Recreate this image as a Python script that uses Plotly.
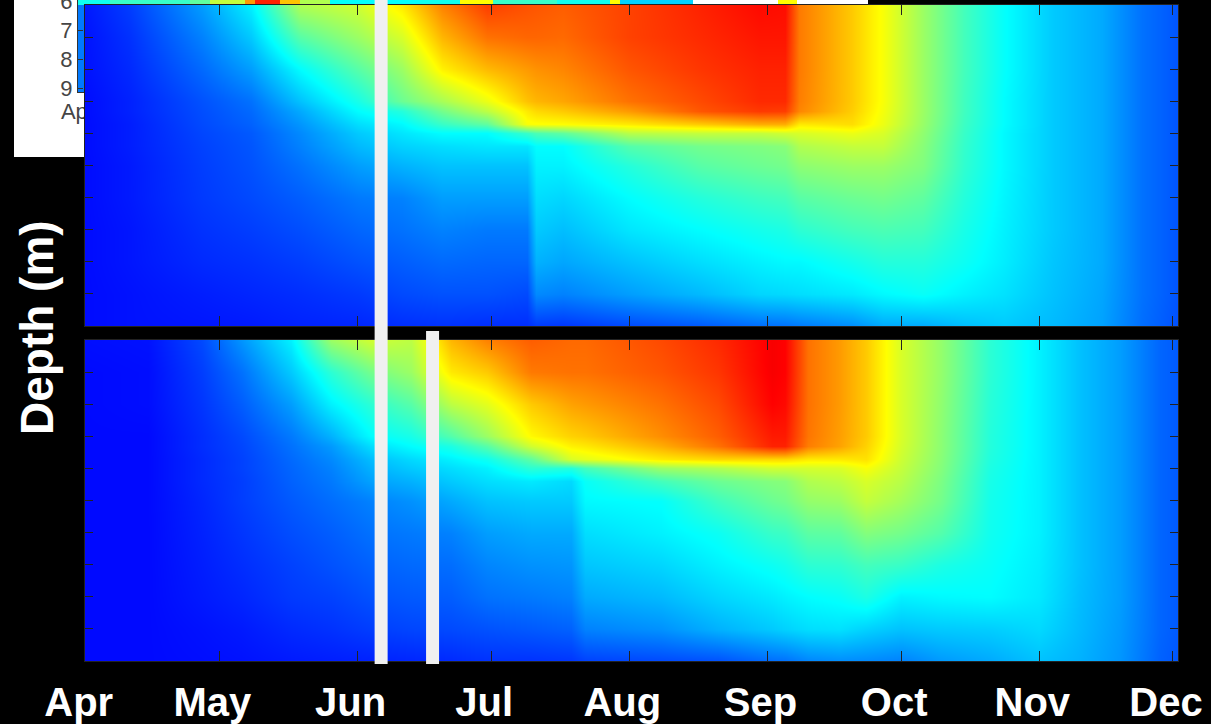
import plotly.graph_objects as go

# ---------------- data ----------------
depths = [0, 1, 2, 3, 3.3, 3.7, 4.0, 4.4, 5, 6, 7, 8, 9, 10]

top_dates = ["2013-03-30", "2013-04-11", "2013-04-27", "2013-05-08", "2013-05-19",
             "2013-06-01", "2013-06-11", "2013-06-20", "2013-06-30", "2013-07-09",
             "2013-07-11", "2013-07-17", "2013-08-01", "2013-08-17", "2013-08-30",
             "2013-09-05", "2013-09-08", "2013-09-20", "2013-09-27", "2013-10-06",
             "2013-10-15", "2013-10-24", "2013-11-04", "2013-11-15", "2013-11-24",
             "2013-12-05"]
# one list per date, values by depth (deg C)
top_temp = [
    [3.2, 3.1, 3.1, 3.0, 3.0, 3.0, 3.0, 3.0, 3.0, 3.0, 3.0, 3.0, 3.0, 3.0],
    [4.3, 4.0, 3.8, 3.6, 3.6, 3.5, 3.5, 3.5, 3.4, 3.4, 3.3, 3.3, 3.2, 3.2],
    [6.7, 6.0, 5.4, 4.8, 4.7, 4.6, 4.5, 4.4, 4.3, 4.2, 4.0, 3.8, 3.5, 3.3],
    [8.8, 7.8, 6.7, 5.6, 5.4, 5.2, 5.0, 4.9, 4.8, 4.6, 4.3, 4.0, 3.7, 3.4],
    [13.5, 11.3, 9.1, 7.6, 7.0, 6.5, 6.2, 6.0, 5.6, 5.1, 4.7, 4.3, 3.9, 3.6],
    [14.3, 13.0, 11.3, 9.7, 9.1, 8.3, 7.8, 7.4, 6.7, 5.8, 5.3, 4.8, 4.2, 3.7],
    [16.0, 14.5, 13.0, 11.8, 10.0, 9.0, 8.5, 8.0, 7.2, 6.0, 5.6, 5.1, 4.6, 3.9],
    [18.6, 17.3, 15.8, 13.3, 12.0, 10.5, 9.1, 8.3, 7.6, 6.7, 6.0, 5.4, 4.8, 4.0],
    [20.3, 19.0, 17.2, 15.0, 13.8, 11.5, 9.1, 8.5, 7.6, 6.7, 5.8, 5.3, 4.8, 3.9],
    [19.8, 19.3, 18.0, 17.0, 16.0, 15.3, 10.5, 8.5, 7.6, 6.7, 5.8, 5.3, 4.6, 3.9],
    [19.7, 19.3, 18.2, 17.3, 16.4, 15.4, 11.0, 9.1, 8.8, 8.3, 7.8, 7.2, 6.2, 4.2],
    [19.5, 19.2, 18.5, 17.7, 16.8, 15.5, 11.5, 9.1, 8.8, 8.1, 7.5, 6.9, 6.0, 4.1],
    [20.2, 20.2, 19.7, 19.0, 18.0, 16.0, 13.7, 11.2, 10.0, 9.1, 8.5, 7.6, 6.7, 4.6],
    [21.0, 20.8, 20.5, 20.0, 19.7, 16.8, 14.0, 12.0, 11.3, 10.0, 9.1, 8.3, 7.4, 5.0],
    [21.6, 21.3, 21.0, 20.8, 20.4, 17.5, 14.0, 12.3, 11.8, 10.6, 9.6, 8.8, 8.1, 5.5],
    [21.5, 21.3, 21.0, 20.8, 20.3, 17.5, 14.3, 12.5, 12.0, 10.8, 9.8, 9.0, 8.2, 5.6],
    [18.8, 18.8, 18.8, 18.7, 18.5, 16.0, 14.5, 13.5, 12.6, 11.3, 10.2, 9.0, 8.3, 5.8],
    [16.8, 16.8, 16.8, 16.8, 16.7, 16.3, 15.0, 14.0, 13.0, 11.8, 10.8, 9.6, 8.6, 6.3],
    [15.3, 15.3, 15.3, 15.3, 15.2, 15.0, 14.5, 14.0, 13.0, 12.0, 11.0, 10.0, 9.0, 7.0],
    [13.0, 13.0, 13.0, 13.0, 13.0, 12.9, 12.7, 12.5, 12.3, 11.5, 10.8, 10.0, 9.3, 7.0],
    [10.8, 10.8, 10.8, 10.7, 10.7, 10.6, 10.5, 10.4, 10.3, 10.0, 9.7, 9.4, 8.8, 7.5],
    [9.2, 9.2, 9.2, 9.1, 9.1, 9.1, 9.0, 9.0, 9.0, 8.9, 8.8, 8.7, 8.4, 7.8],
    [7.8, 7.8, 7.8, 7.8, 7.8, 7.8, 7.8, 7.8, 7.8, 7.8, 7.8, 7.7, 7.6, 7.4],
    [7.0, 7.0, 7.0, 7.0, 7.0, 7.0, 7.0, 7.0, 7.0, 7.0, 7.0, 7.0, 6.9, 6.8],
    [5.6, 5.6, 5.6, 5.6, 5.6, 5.6, 5.6, 5.6, 5.6, 5.6, 5.6, 5.6, 5.6, 5.5],
    [4.6, 4.6, 4.6, 4.6, 4.6, 4.6, 4.6, 4.6, 4.6, 4.6, 4.6, 4.6, 4.6, 4.5],
]

bottom_dates = ["2013-03-30", "2013-04-15", "2013-04-27", "2013-05-06", "2013-05-17",
                "2013-05-26", "2013-06-04", "2013-06-13", "2013-06-22", "2013-06-30",
                "2013-07-10", "2013-07-19", "2013-07-22", "2013-08-08", "2013-08-21",
                "2013-09-02", "2013-09-05", "2013-09-10", "2013-09-17", "2013-09-23",
                "2013-10-01", "2013-10-10", "2013-10-21", "2013-11-01", "2013-11-10",
                "2013-11-19", "2013-11-28", "2013-12-05"]
bottom_temp = [
    [3.1, 3.0, 3.0, 3.0, 3.0, 3.0, 3.0, 3.0, 3.0, 3.0, 3.0, 3.0, 3.0, 3.0],
    [3.2, 3.1, 3.1, 3.0, 3.0, 3.0, 3.0, 3.0, 3.0, 3.0, 3.0, 3.0, 3.0, 3.0],
    [4.6, 4.3, 4.1, 3.9, 3.9, 3.8, 3.8, 3.8, 3.7, 3.6, 3.5, 3.4, 3.2, 3.1],
    [6.5, 5.6, 5.1, 4.6, 4.5, 4.4, 4.4, 4.3, 4.3, 4.1, 3.9, 3.7, 3.4, 3.2],
    [8.8, 7.8, 6.7, 5.8, 5.6, 5.4, 5.3, 5.2, 5.0, 4.7, 4.4, 4.2, 3.8, 3.4],
    [13.0, 10.2, 8.8, 7.2, 6.6, 6.2, 6.0, 5.8, 5.5, 5.1, 4.8, 4.4, 4.0, 3.5],
    [14.3, 12.0, 10.2, 9.1, 8.3, 7.5, 7.2, 6.8, 6.0, 5.6, 5.2, 4.8, 4.3, 3.6],
    [13.8, 13.0, 11.3, 9.7, 9.1, 8.2, 7.8, 7.2, 6.4, 5.8, 5.4, 5.0, 4.5, 3.7],
    [17.3, 16.0, 13.8, 11.2, 9.8, 8.8, 8.3, 7.8, 7.0, 6.0, 5.5, 5.1, 4.6, 3.8],
    [18.6, 16.8, 14.8, 13.0, 11.3, 9.5, 8.8, 8.3, 7.6, 6.7, 6.1, 5.6, 4.8, 4.0],
    [19.5, 18.8, 16.8, 15.6, 14.3, 11.5, 10.2, 8.6, 7.8, 7.0, 6.4, 5.8, 5.0, 4.0],
    [19.2, 19.0, 17.8, 16.6, 15.8, 14.5, 10.0, 8.2, 7.8, 7.0, 6.5, 6.0, 5.2, 4.1],
    [19.2, 19.0, 18.0, 16.8, 16.0, 14.8, 10.8, 9.3, 9.0, 8.3, 7.7, 7.0, 6.0, 4.4],
    [20.0, 19.7, 19.0, 18.3, 17.5, 16.0, 13.0, 10.8, 9.2, 8.8, 8.1, 7.4, 6.4, 4.6],
    [20.8, 20.5, 20.0, 19.5, 19.0, 16.5, 13.5, 11.8, 10.7, 9.4, 8.8, 8.1, 7.2, 4.8],
    [22.0, 22.0, 21.8, 21.2, 21.0, 16.5, 14.3, 12.4, 11.8, 10.5, 9.4, 8.6, 7.8, 5.5],
    [21.8, 21.8, 21.6, 21.2, 21.0, 16.5, 14.3, 12.5, 12.0, 10.6, 9.6, 8.8, 8.0, 5.6],
    [19.0, 19.0, 19.0, 18.9, 18.7, 16.0, 14.4, 13.5, 12.8, 11.4, 10.2, 9.1, 8.3, 6.1],
    [18.0, 18.0, 18.0, 17.9, 17.8, 16.0, 14.5, 13.8, 13.0, 11.5, 10.3, 9.3, 8.4, 6.3],
    [16.8, 16.8, 16.8, 16.8, 16.6, 16.2, 15.3, 14.5, 14.0, 12.4, 10.8, 9.8, 8.0, 6.2],
    [14.5, 14.5, 14.5, 14.5, 14.4, 14.2, 14.0, 13.7, 13.2, 12.0, 10.5, 8.8, 7.6, 6.0],
    [12.8, 12.8, 12.7, 12.6, 12.6, 12.5, 12.4, 12.2, 12.0, 11.2, 9.8, 9.0, 7.8, 6.6],
    [10.2, 10.2, 10.1, 10.0, 10.0, 9.9, 9.8, 9.7, 9.6, 9.5, 9.3, 9.1, 7.9, 7.0],
    [8.8, 8.8, 8.8, 8.8, 8.8, 8.8, 8.8, 8.8, 8.8, 8.8, 8.7, 8.6, 8.2, 7.6],
    [7.6, 7.6, 7.6, 7.6, 7.6, 7.6, 7.6, 7.6, 7.6, 7.6, 7.6, 7.5, 7.4, 7.2],
    [6.7, 6.7, 6.7, 6.7, 6.7, 6.7, 6.7, 6.7, 6.7, 6.7, 6.7, 6.7, 6.6, 6.5],
    [5.3, 5.3, 5.3, 5.3, 5.3, 5.3, 5.3, 5.3, 5.3, 5.3, 5.3, 5.3, 5.3, 5.2],
    [4.8, 4.8, 4.8, 4.8, 4.8, 4.8, 4.8, 4.8, 4.8, 4.8, 4.8, 4.8, 4.8, 4.7],
]

month_dates = ["2013-04-01", "2013-05-01", "2013-06-01", "2013-07-01", "2013-08-01",
               "2013-09-01", "2013-10-01", "2013-11-01", "2013-12-01"]
month_labels = ["Apr", "May", "Jun", "Jul", "Aug", "Sep", "Oct", "Nov", "Dec"]
depth_ticks = [0, 1, 2, 3, 4, 5, 6, 7, 8, 9, 10]

marker_dates = ["2013-06-06 07:00", "2013-06-17 20:00"]   # white vertical bars

# partially hidden inset (days since Apr 1, segment edges)
inset_edges = [0, 14.4, 50.3, 59.3, 75.1, 79.6, 90.8, 99.8, 113.3, 153.7, 171.7,
               186.5, 215.3, 239.1, 243.6, 276.4, 314.6, 323.1, 355.1]
inset_depth_edges = [5.97, 6.15, 9.12]
inset_top_row = [9.5, 10.5, 11.5, 14.0, 18.0, 21.0, 17.0, 13.5, 9.2, 9.5, 15.5,
                 10.5, 9.5, 15.5, 8.0, None, 15.5, None]
inset_low_row = [5.8, 6.0, 6.0, 6.0, 6.0, 6.0, 6.0, 6.0, 6.0, 6.0, 6.0,
                 6.0, 6.0, 6.0, 6.0, None, None, None]
inset_ticks = [6, 7, 8, 9]

# ---------------- figure ----------------
W, H = 1211, 724
jet = [[0.0, "rgb(0,0,143)"], [0.111, "rgb(0,0,255)"], [0.365, "rgb(0,255,255)"],
       [0.619, "rgb(255,255,0)"], [0.873, "rgb(255,0,0)"], [1.0, "rgb(128,0,0)"]]
ZMIN, ZMAX = 0, 25


def transpose(cols):
    return [list(r) for r in zip(*cols)]


fig = go.Figure()

# inset (drawn first so the main panels cover it)
fig.add_trace(go.Heatmap(x=inset_edges, y=inset_depth_edges,
                         z=[inset_top_row, inset_low_row],
                         colorscale=jet, zmin=ZMIN, zmax=ZMAX, showscale=False,
                         zsmooth=False, hoverinfo="skip", xaxis="x", yaxis="y"))

fig.add_trace(go.Heatmap(x=top_dates, y=depths, z=transpose(top_temp),
                         colorscale=jet, zmin=ZMIN, zmax=ZMAX, showscale=False,
                         zsmooth="best", xaxis="x2", yaxis="y2"))
fig.add_trace(go.Heatmap(x=bottom_dates, y=depths, z=transpose(bottom_temp),
                         colorscale=jet, zmin=ZMIN, zmax=ZMAX, showscale=False,
                         zsmooth="best", xaxis="x3", yaxis="y3"))

xdom = [85 / W, 1178 / W]
xrange = ["2013-03-31 20:00", "2013-12-02 03:00"]
axis_line = dict(showline=True, linecolor="#222", linewidth=1, showgrid=False,
                 zeroline=False, ticks="inside", tickcolor="#222", tickwidth=1,
                 mirror="ticks", automargin=False)

xcommon = dict(type="date", range=xrange, domain=xdom, tickmode="array",
               tickvals=month_dates, ticktext=month_labels, ticklen=10, **axis_line)
ycommon = dict(range=[10, 0], tickmode="array", tickvals=depth_ticks,
               showticklabels=False, ticklen=8, **axis_line)

fig.update_layout(
    template="none",
    width=W, height=H, autosize=False,
    margin=dict(l=0, r=0, t=0, b=0, pad=0, autoexpand=False),
    paper_bgcolor="black", plot_bgcolor="rgba(0,0,0,0)",
    showlegend=False,
    xaxis=dict(domain=[78 / W, 868 / W], range=[0, 355.1], anchor="y",
               showline=True, linecolor="#333", linewidth=1, showgrid=False,
               zeroline=False, ticks="", tickmode="array", tickvals=[0],
               automargin=False,
               ticktext=["Apr"], tickfont=dict(family="Liberation Sans", size=22,
                                               color="#454545")),
    yaxis=dict(domain=[1 - 92 / H, 1], range=[9.12, 5.97], anchor="x",
               showline=True, linecolor="#333", linewidth=1, showgrid=False,
               zeroline=False, ticks="inside", ticklen=5, tickcolor="#333",
               tickmode="array", tickvals=inset_ticks, ticklabeloverflow="allow",
               automargin=False,
               tickfont=dict(family="Liberation Sans", size=22, color="#454545")),
    xaxis2=dict(anchor="y2", showticklabels=False, **xcommon),
    yaxis2=dict(anchor="x2", domain=[1 - 326 / H, 1 - 5 / H], **ycommon),
    xaxis3=dict(anchor="y3", showticklabels=True, ticklabelstandoff=6,
                ticklabelshift=-7, ticklabeloverflow="allow",
                tickfont=dict(family="Liberation Sans", size=40, color="white",
                              weight=700), **xcommon),
    yaxis3=dict(anchor="x3", domain=[1 - 661 / H, 1 - 340 / H], **ycommon),
)

# white inset background card
fig.add_shape(type="rect", xref="paper", yref="paper", x0=14 / W, x1=868 / W,
              y0=1 - 157 / H, y1=1, fillcolor="white", line=dict(width=0),
              layer="below")

# white vertical marker bars
bar_tops = [1.0, 1 - 331 / H]
for d, top in zip(marker_dates, bar_tops):
    fig.add_shape(type="line", xref="x2", yref="paper", x0=d, x1=d,
                  y0=1 - 664 / H, y1=top, line=dict(color="#f0f0f0", width=13),
                  layer="above")

fig.add_annotation(text="Depth (m)", xref="paper", yref="paper",
                   x=37 / W, y=1 - 328 / H, xanchor="center", yanchor="middle",
                   textangle=-90, showarrow=False,
                   font=dict(family="Liberation Sans", size=46, color="white",
                             weight=700))

fig.write_html("out.html")
